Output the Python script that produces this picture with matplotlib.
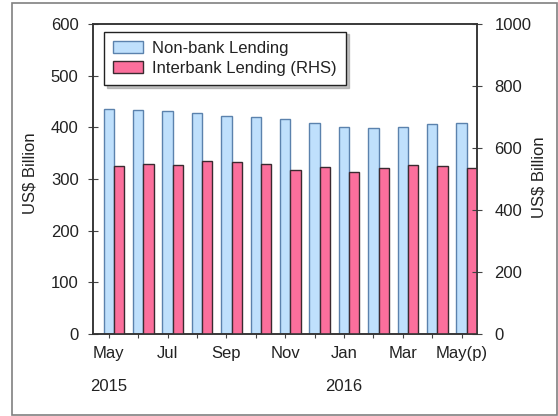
import numpy as np
import matplotlib
matplotlib.use("Agg")
import matplotlib.pyplot as plt
import matplotlib.transforms as mtransforms
from matplotlib.patches import Rectangle

plt.rcParams['font.family'] = ['Liberation Sans', 'DejaVu Sans']
plt.rcParams['font.size'] = 12

months = ['May', 'Jun', 'Jul', 'Aug', 'Sep', 'Oct', 'Nov', 'Dec',
          'Jan', 'Feb', 'Mar', 'Apr', 'May(p)']
non_bank = [436, 434, 431, 428, 422, 420, 416, 408, 401, 398, 401, 407, 408]
interbank = [541, 550, 546, 557, 556, 548, 528, 538, 524, 537, 545, 542, 536]
years = {0: '2015', 8: '2016'}

blue = '#bfe0fc'
blue_edge = '#5b82ad'
pink = '#fb6f9c'
pink_edge = '#3a2a30'
txt = '#222222'

fig = plt.figure(figsize=(5.58, 4.16), dpi=100)
fig.patches.append(Rectangle((12/558, 1/416), 545/558, 412/416, transform=fig.transFigure,
                             fill=False, edgecolor='#808080', lw=1.2))

ax = fig.add_axes([93.2/558, (416-333.7)/416, 383.8/558, 309.4/416])
ax2 = ax.twinx()

x = np.arange(len(months))
w = 0.35
b1 = ax.bar(x - w/2, non_bank, w, color=blue, edgecolor=blue_edge, lw=1, label='Non-bank Lending')
b2 = ax2.bar(x + w/2, interbank, w, color=pink, edgecolor=pink_edge, lw=1, label='Interbank Lending (RHS)')

ax.set_xlim(-0.707, 12.35)
ax.set_ylim(0, 600)
ax2.set_ylim(0, 1000)
ax.set_yticks(range(0, 601, 100))
ax2.set_yticks(range(0, 1001, 200))

ax.set_xticks(x - w/2)
ax.set_xticklabels([m if i % 2 == 0 else '' for i, m in enumerate(months)])
ax.tick_params(axis='x', direction='out', length=3, pad=6, colors='#444444', labelcolor=txt)
ax.tick_params(axis='y', direction='inout', length=7, pad=7, colors='#444444', labelcolor=txt)
ax2.tick_params(axis='y', direction='inout', length=7, pad=9, colors='#444444', labelcolor=txt)

for a in (ax, ax2):
    for s in a.spines.values():
        s.set_color('#333333')
        s.set_linewidth(1.1)

ax.set_ylabel('US$ Billion', color=txt)
ax.yaxis.set_label_coords(-0.146, 0.52)
ax2.set_ylabel('US$ Billion', color=txt)
ax2.yaxis.set_label_coords(1.141, 0.506)

trans = mtransforms.blended_transform_factory(ax.transData, fig.transFigure)
for i, y in years.items():
    ax.text(i - w/2, 1 - 386.7/416, y, transform=trans, ha='center', va='center', color=txt)

leg = fig.legend([b1, b2], ['Non-bank Lending', 'Interbank Lending (RHS)'],
                 loc='upper left', bbox_to_anchor=(104/558, 1 - 31.7/416),
                 fancybox=False, shadow={'color': '#999999', 'alpha': 0.6}, framealpha=1,
                 edgecolor='#222222', handlelength=1.8, handleheight=0.72,
                 labelspacing=0.32, borderpad=0.55, handletextpad=0.55, borderaxespad=0)
leg.get_frame().set_linewidth(1)
for t in leg.get_texts():
    t.set_color(txt)

fig.savefig('out.png', dpi=100)
